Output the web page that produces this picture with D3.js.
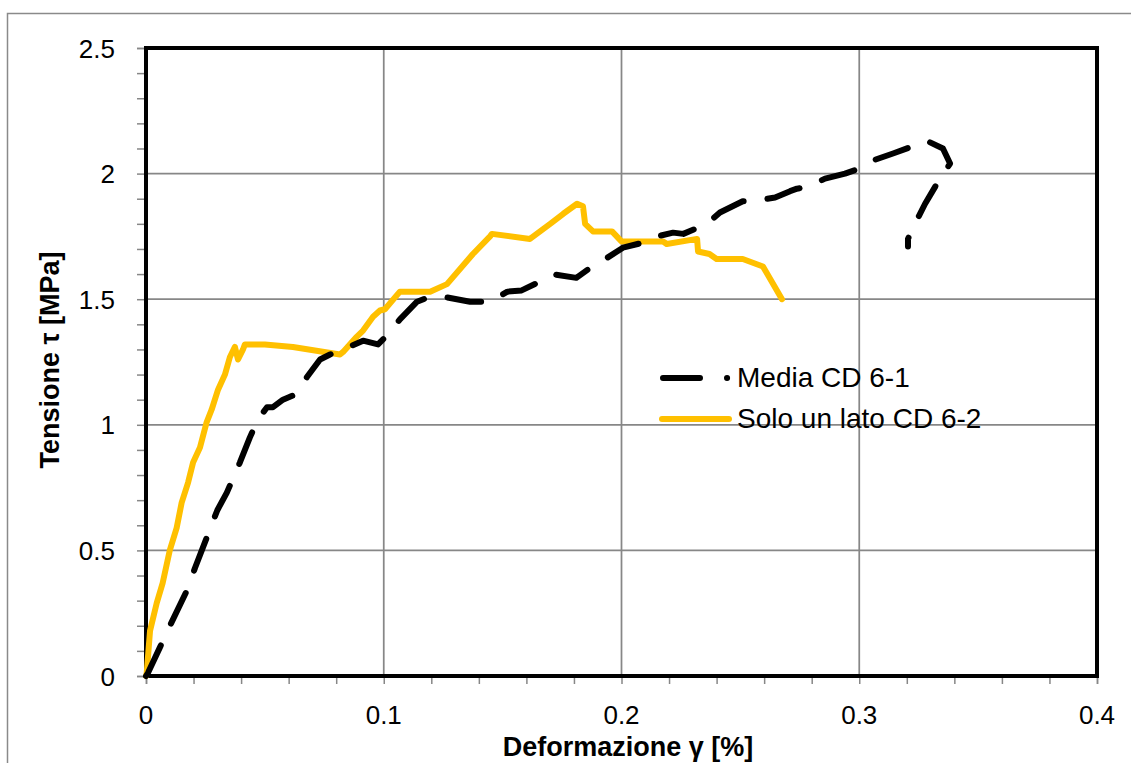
<!DOCTYPE html>
<html>
<head>
<meta charset="utf-8">
<script src="https://cdn.jsdelivr.net/npm/d3@7"></script>
<style>
  html, body { margin: 0; padding: 0; background: #fff; }
  svg { display: block; }
</style>
</head>
<body>
<svg id="chart" width="1131" height="763"></svg>
<script>
// ---- Data ----
const seriesNames = ["Media CD 6-1", "Solo un lato CD 6-2"];

const gammaA = [0, 0.0008, 0.0059, 0.0088, 0.0177, 0.0206, 0.030, 0.034, 0.0395, 0.0437, 0.047, 0.0509, 0.0534, 0.0576, 0.0627, 0.0635, 0.0677, 0.0732, 0.0774, 0.0829, 0.0913, 0.0976, 0.1018, 0.1068, 0.114, 0.1195, 0.125, 0.1363, 0.1447, 0.152, 0.158, 0.1657, 0.171, 0.181, 0.1876, 0.194, 0.2006, 0.209, 0.215, 0.2217, 0.226, 0.236, 0.2414, 0.251, 0.2549, 0.2646, 0.2709, 0.2738, 0.278, 0.2856, 0.294, 0.300, 0.3066, 0.3142, 0.3285, 0.3352, 0.3382, 0.3327, 0.3277, 0.3226, 0.3205, 0.3205];
const tauA   = [0, 0.012, 0.115, 0.175, 0.35, 0.43, 0.66, 0.73, 0.85, 0.95, 1.02, 1.07, 1.07, 1.10, 1.12, 1.13, 1.19, 1.26, 1.28, 1.30, 1.335, 1.32, 1.36, 1.42, 1.49, 1.51, 1.51, 1.49, 1.49, 1.53, 1.535, 1.57, 1.60, 1.585, 1.63, 1.665, 1.705, 1.725, 1.75, 1.765, 1.76, 1.80, 1.845, 1.89, 1.89, 1.905, 1.93, 1.94, 1.945, 1.98, 2.00, 2.02, 2.055, 2.08, 2.13, 2.10, 2.04, 1.96, 1.88, 1.785, 1.74, 1.71];

const gammaB = [0, 0.0003, 0.0017, 0.0045, 0.007, 0.010, 0.0129, 0.015, 0.0177, 0.0198, 0.0227, 0.0255, 0.0276, 0.0303, 0.0332, 0.0353, 0.0374, 0.0387, 0.0408, 0.0416, 0.050, 0.0618, 0.0816, 0.0829, 0.0886, 0.0913, 0.0955, 0.0984, 0.1005, 0.1068, 0.1195, 0.1266, 0.1375, 0.1447, 0.1455, 0.1615, 0.170, 0.1755, 0.1813, 0.1838, 0.1847, 0.188, 0.196, 0.200, 0.2175, 0.219, 0.2318, 0.2322, 0.237, 0.240, 0.251, 0.2595, 0.2675];
const tauB   = [0, 0.012, 0.18, 0.29, 0.37, 0.50, 0.59, 0.69, 0.77, 0.85, 0.91, 1.01, 1.06, 1.14, 1.20, 1.27, 1.31, 1.26, 1.30, 1.32, 1.32, 1.31, 1.28, 1.29, 1.35, 1.375, 1.43, 1.455, 1.46, 1.53, 1.53, 1.56, 1.68, 1.75, 1.76, 1.74, 1.80, 1.84, 1.88, 1.87, 1.80, 1.77, 1.77, 1.73, 1.73, 1.72, 1.74, 1.69, 1.68, 1.66, 1.66, 1.63, 1.50];

const xTicks = [0, 0.1, 0.2, 0.3, 0.4];
const xTickLabels = ["0", "0.1", "0.2", "0.3", "0.4"];
const yTicks = [0, 0.5, 1, 1.5, 2, 2.5];
const yTickLabels = ["0", "0.5", "1", "1.5", "2", "2.5"];
const xTitle = "Deformazione γ [%]";
const yTitle = "Tensione τ [MPa]";

// ---- Layout ----
const svg = d3.select("#chart");
const pLeft = 146, pRight = 1097, pTop = 48, pBottom = 676;
const x = d3.scaleLinear().domain([0, 0.4]).range([pLeft, pRight]);
const y = d3.scaleLinear().domain([0, 2.5]).range([pBottom, pTop]);
const gridColor = "#878787";
const font = "'Liberation Sans', Arial, sans-serif";

// outer chart border
svg.append("rect").attr("x", 7.5).attr("y", 13.5).attr("width", 1150).attr("height", 800)
  .attr("fill", "none").attr("stroke", "#8a8a8a").attr("stroke-width", 1.5);

// gridlines
svg.append("g").selectAll("line").data(xTicks.slice(1, -1)).join("line")
  .attr("x1", d => x(d)).attr("x2", d => x(d)).attr("y1", pTop).attr("y2", pBottom)
  .attr("stroke", gridColor).attr("stroke-width", 1.75);
svg.append("g").selectAll("line").data(yTicks.slice(1, -1)).join("line")
  .attr("y1", d => y(d)).attr("y2", d => y(d)).attr("x1", pLeft).attr("x2", pRight)
  .attr("stroke", gridColor).attr("stroke-width", 1.75);

// axes (ticks)
const xMinor = d3.range(0, 0.4001, 0.02);
const yMinor = d3.range(0, 2.5001, 0.1);
const xAxis = d3.axisBottom(x).tickValues(xMinor).tickSize(8).tickFormat("");
const yAxis = d3.axisLeft(y).tickValues(yMinor).tickSize(9).tickFormat("");
const gx = svg.append("g").attr("transform", `translate(0,${pBottom})`).call(xAxis);
const gy = svg.append("g").attr("transform", `translate(${pLeft},0)`).call(yAxis);
[gx, gy].forEach(g => {
  g.select(".domain").attr("stroke", gridColor).attr("stroke-width", 1.5);
  g.selectAll(".tick line").attr("stroke", gridColor).attr("stroke-width", 1.5);
});

// tick labels
svg.append("g").selectAll("text").data(xTicks).join("text")
  .attr("x", d => x(d)).attr("y", 724).attr("text-anchor", "middle")
  .attr("font-family", font).attr("font-size", 26).attr("fill", "#000")
  .text((d, i) => xTickLabels[i]);
svg.append("g").selectAll("text").data(yTicks).join("text")
  .attr("x", 115).attr("y", d => y(d) + 9.5).attr("text-anchor", "end")
  .attr("font-family", font).attr("font-size", 26).attr("fill", "#000")
  .text((d, i) => yTickLabels[i]);

// plot frame
svg.append("rect").attr("x", pLeft).attr("y", pTop).attr("width", pRight - pLeft).attr("height", pBottom - pTop)
  .attr("fill", "none").attr("stroke", "#000").attr("stroke-width", 4);

// series
const line = d3.line().x(d => x(d[0])).y(d => y(d[1]));
const dataA = gammaA.map((g, i) => [g, tauA[i]]);
const dataB = gammaB.map((g, i) => [g, tauB[i]]);

svg.append("path").datum(dataB).attr("d", line)
  .attr("fill", "none").attr("stroke", "#FFC000").attr("stroke-width", 6)
  .attr("stroke-linejoin", "round").attr("stroke-linecap", "round");
svg.append("path").datum(dataA).attr("d", line)
  .attr("fill", "none").attr("stroke", "#000").attr("stroke-width", 6)
  .attr("stroke-dasharray", "34 24").attr("stroke-linejoin", "round").attr("stroke-linecap", "round");

// legend
const lg = svg.append("g");
lg.append("line").attr("x1", 663).attr("x2", 732).attr("y1", 378).attr("y2", 378)
  .attr("stroke", "#000").attr("stroke-width", 6).attr("stroke-linecap", "round")
  .attr("stroke-dasharray", "37 27 0.1 200");
lg.append("line").attr("x1", 662).attr("x2", 729).attr("y1", 419).attr("y2", 419)
  .attr("stroke", "#FFC000").attr("stroke-width", 6).attr("stroke-linecap", "round");
lg.selectAll("text").data(seriesNames).join("text")
  .attr("x", 737).attr("y", (d, i) => 387 + i * 41)
  .attr("font-family", font).attr("font-size", 28).attr("fill", "#000")
  .text(d => d);

// axis titles
svg.append("text").attr("x", 628).attr("y", 756).attr("text-anchor", "middle")
  .attr("font-family", font).attr("font-size", 27).attr("font-weight", "bold")
  .text(xTitle);
svg.append("text").attr("transform", "translate(59,360) rotate(-90)").attr("text-anchor", "middle")
  .attr("font-family", font).attr("font-size", 27).attr("font-weight", "bold")
  .text(yTitle);
</script>
</body>
</html>
